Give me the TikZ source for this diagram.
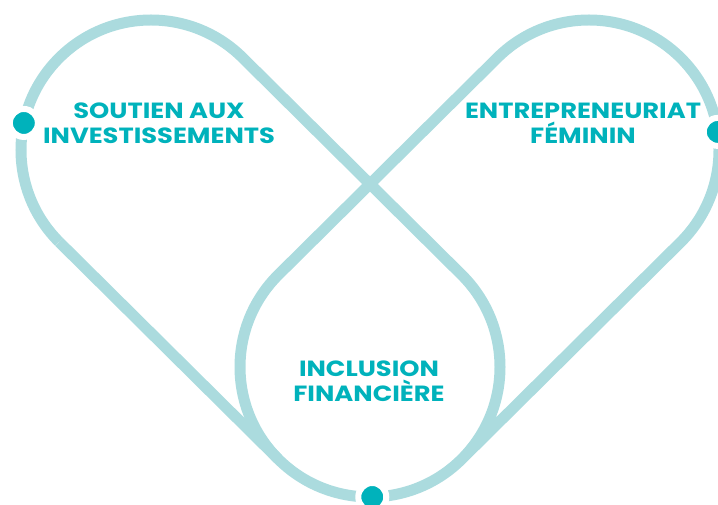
\documentclass[tikz,border=0pt]{standalone}
\usepackage{fontspec}
\newfontfamily\labelfont{Poppins}[FakeStretch=1.17]
\usetikzlibrary{calc}
\definecolor{lightteal}{RGB}{171,219,222}
\definecolor{teal}{RGB}{0,178,187}
\begin{document}
\begin{tikzpicture} [x=1pt, y=1pt,
		loop/.style = {draw=lightteal, line width=11pt},
		knot/.style = {circle, fill=teal, draw=white, line width=6pt, minimum size=28pt, inner sep=0pt},
		caption/.style = {text=teal, align=center, font=\labelfont\bfseries\fontsize{22}{25}\selectfont}]
		\useasboundingbox (0,0) rectangle (718,504);
		\def\loopr{130pt}
		\coordinate (L) at (151,354);
		\coordinate (R) at (589,354);
		\coordinate (B) at (370,137);
		% the three loops
		\draw [loop] ($(L)+(225:\loopr)$) arc (225:45:\loopr) -- ($(B)+(45:\loopr)$) arc (45:-225:\loopr) -- ($(R)+(135:\loopr)$) arc (135:-45:\loopr) -- ($(B)+(-45:\loopr)$);
		\draw [loop] ($(L)+(225:\loopr)$) -- ($(B)+(225:\loopr)$);
		\node [knot] (kleft) at ($(L)+(168:\loopr)$) {};
		\node [knot] (kright) at ($(R)+(8:\loopr)$) {};
		\node [knot] (kbottom) at ($(B)+(-89:\loopr)$) {};
		\node [caption] (soutien) at (159,381) {SOUTIEN AUX\\INVESTISSEMENTS};
		\node [caption] (feminin) at (583,381) {ENTREPRENEURIAT\\FÉMININ};
		\node [caption] (inclusion) at (369,123) {INCLUSION\\FINANCIÈRE};
	\end{tikzpicture}
\end{document}
